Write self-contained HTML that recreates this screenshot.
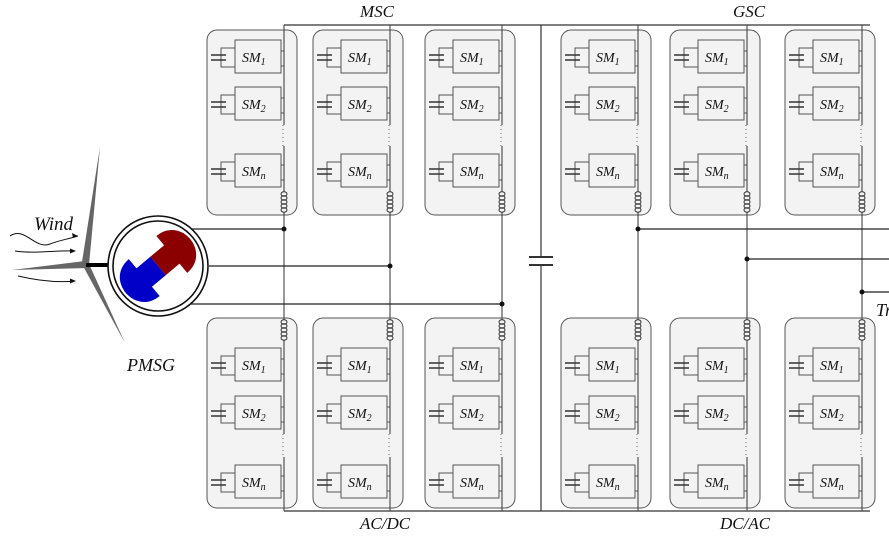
<!DOCTYPE html>
<html><head><meta charset="utf-8"><style>
body{margin:0;background:#fff;width:889px;height:537px;overflow:hidden}
svg{display:block}
text{font-family:"Liberation Serif",serif;font-style:italic;fill:#111}
</style></head><body>
<svg id="s" width="889" height="537" viewBox="0 0 889 537" xmlns="http://www.w3.org/2000/svg">
<g stroke="#333" stroke-width="1.2" fill="none">
<line x1="284" y1="25" x2="870" y2="25"/>
<line x1="284" y1="511" x2="870" y2="511"/>
<line x1="541" y1="25" x2="541" y2="257"/>
<line x1="541" y1="265" x2="541" y2="511"/>
</g>
<line x1="529" y1="257" x2="553" y2="257" stroke="#333" stroke-width="2"/>
<line x1="529" y1="265" x2="553" y2="265" stroke="#333" stroke-width="2"/>
<g id="mods"></g>
<g stroke="#222" stroke-width="1.2">
<line x1="190" y1="229" x2="284" y2="229"/>
<line x1="209" y1="266" x2="390" y2="266"/>
<line x1="190" y1="304" x2="502" y2="304"/>
<line x1="638" y1="229" x2="889" y2="229"/>
<line x1="747" y1="259" x2="889" y2="259"/>
<line x1="862" y1="292" x2="889" y2="292"/>
</g>
<g fill="#111">
<circle cx="284" cy="229" r="2.5"/><circle cx="390" cy="266" r="2.5"/><circle cx="502" cy="304" r="2.5"/>
<circle cx="638" cy="229" r="2.5"/><circle cx="747" cy="259" r="2.5"/><circle cx="862" cy="292" r="2.5"/>
</g>
<g fill="#666">
<path d="M82 262 L100 147 L89 265 Z"/>
<path d="M85 261 L12 270 L88 268 Z"/>
<path d="M83 266 L125 343 L89 264 Z"/>
</g>
<g stroke="#111" stroke-width="1" fill="none">
<path d="M10 236 C25 226 35 250 50 244 C60 240 65 240 78 236"/>
<path d="M15 251 C35 254 55 250 75 251"/>
<path d="M18 276 C35 280 55 283 75 281"/>
</g>
<g fill="#111"><path d="M78 236 l-6 -3 l1 5z"/><path d="M76 251 l-6 -2.5 l0 5z"/><path d="M76 281 l-6 -2.5 l0 5z"/></g>
<line x1="86" y1="265" x2="115" y2="265" stroke="#000" stroke-width="4"/>
<circle cx="158" cy="266" r="50" fill="#fff" stroke="#111" stroke-width="1.6"/>
<circle cx="158" cy="266" r="45" fill="#fff" stroke="#111" stroke-width="1.6"/>
<g transform="translate(158,266) rotate(-40)">
<rect x="0" y="-12" width="20" height="24" fill="#8b0000"/>
<path d="M18 -24 C50 -24 50 24 18 24 Z" fill="#8b0000"/>
<rect x="-20" y="-12" width="20" height="24" fill="#0000c8"/>
<path d="M-18 -24 C-50 -24 -50 24 -18 24 Z" fill="#0000c8"/>
</g>
<text x="360" y="17" font-size="17">MSC</text>
<text x="733" y="17" font-size="17">GSC</text>
<text x="360" y="529" font-size="17">AC/DC</text>
<text x="720" y="529" font-size="17">DC/AC</text>
<text x="34" y="230" font-size="19">Wind</text>
<text x="127" y="371" font-size="18">PMSG</text>
<text x="876" y="316" font-size="18">Tr</text>
</svg>
<script>
var cols=[284,390,502,638,747,862],out="";
function coil(c,y){var s='';for(var i=0;i<5;i++){s+='<ellipse cx="'+c+'" cy="'+(y+2+i*4)+'" rx="3" ry="2.2" fill="none" stroke="#333" stroke-width="1"/>';}return s;}
function mod(c,top,row){
 var bx=c-77,h=(row?190:185);
 var r='<rect x="'+bx+'" y="'+top+'" width="90" height="'+h+'" rx="10" fill="#f3f3f3" stroke="#555" stroke-width="1"/>';
 var sms=row?[top+30,top+78,top+147]:[top+10,top+57,top+124];
 var subs=['1','2','n'];
 for(var i=0;i<3;i++){var y=sms[i];
  r+='<rect x="'+(c-49)+'" y="'+y+'" width="46" height="33" fill="#f3f3f3" stroke="#555" stroke-width="1"/>';
  r+='<text x="'+(c-42)+'" y="'+(y+22)+'" font-size="14">SM<tspan font-size="10" dy="3">'+subs[i]+'</tspan></text>';
  r+='<path d="M'+(c-49)+' '+(y+8)+' H'+(c-63)+' V'+(y+27)+' H'+(c-49)+'" stroke="#555" fill="none" stroke-width="1"/>';
  r+='<line x1="'+(c-73)+'" y1="'+(y+15)+'" x2="'+(c-58)+'" y2="'+(y+15)+'" stroke="#333" stroke-width="1.5"/>';
  r+='<line x1="'+(c-73)+'" y1="'+(y+20)+'" x2="'+(c-58)+'" y2="'+(y+20)+'" stroke="#333" stroke-width="1.5"/>';
  r+='<path d="M'+(c-3)+' '+(y+11)+' H'+c+' M'+(c-3)+' '+(y+26)+' H'+c+'" stroke="#555" stroke-width="1"/>';
 }
 r+='<line x1="'+(c-1)+'" y1="'+(sms[1]+38)+'" x2="'+(c-1)+'" y2="'+(sms[2]-8)+'" stroke="#666" stroke-dasharray="1,3"/>';
 return {r:r,sms:sms};
}
for(var k=0;k<6;k++){var c=cols[k];
 var a=mod(c,30,0),b=mod(c,318,1);
 out+=a.r+b.r;
 out+='<path d="M'+c+' 25 V'+(a.sms[1]+38)+' M'+c+' '+(a.sms[2]-8)+' V192 M'+c+' 212 V320 M'+c+' 340 V'+(b.sms[1]+38)+' M'+c+' '+(b.sms[2]-8)+' V511" stroke="#444" stroke-width="1.1" fill="none"/>';
 out+=coil(c,192)+coil(c,320);
}
document.getElementById('mods').innerHTML=out;
</script>
</body></html>
